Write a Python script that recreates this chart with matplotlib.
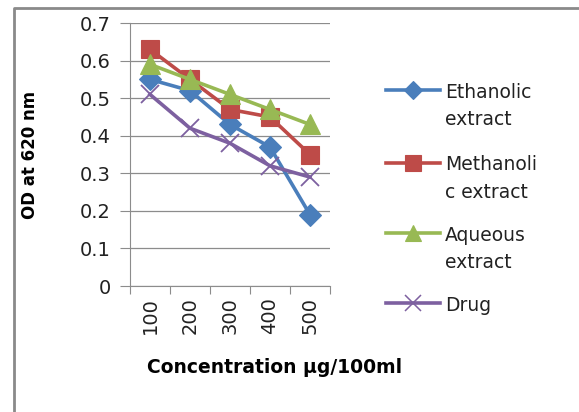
import matplotlib.pyplot as plt
from matplotlib.lines import Line2D

# data
concentrations = ["100", "200", "300", "400", "500"]
ethanolic = [0.55, 0.52, 0.43, 0.37, 0.19]
methanolic = [0.63, 0.55, 0.47, 0.45, 0.35]
aqueous = [0.59, 0.55, 0.51, 0.47, 0.43]
drug = [0.51, 0.42, 0.38, 0.32, 0.29]
labels = ["Ethanolic\nextract", "Methanoli\nc extract", "Aqueous\nextract", "Drug"]
yticks = [0, 0.1, 0.2, 0.3, 0.4, 0.5, 0.6, 0.7]

plt.rcParams['font.family'] = ['DejaVu Sans']

series = [
    (ethanolic, "#4A7EBB", "D", 11),
    (methanolic, "#BE4B48", "s", 13),
    (aqueous, "#98B954", "^", 14),
    (drug, "#7D60A0", "x", 13),
]

fig = plt.figure(figsize=(5.79, 4.12), dpi=100)
ax = fig.add_axes([0.2245, 0.3058, 0.3454, 0.6383])

xs = range(len(concentrations))
for vals, col, mk, ms in series:
    ax.plot(xs, vals, color=col, lw=2.6, marker=mk, markersize=ms,
            markeredgecolor=col, markeredgewidth=1.3 if mk == "x" else 0.8)

ax.set_xlim(-0.5, len(concentrations) - 0.5)
ax.set_ylim(0, 0.7)
ax.set_yticks(yticks)
ax.set_yticklabels(["0"] + [f"{v:.1f}" for v in yticks[1:]], fontsize=14,
                   color="#222222")
ax.yaxis.grid(True, color="#8c8c8c", lw=0.9)
ax.set_axisbelow(True)

# category labels between boundary ticks
ax.set_xticks([i - 0.5 for i in range(len(concentrations) + 1)])
ax.set_xticklabels([])
ax.set_xticks(list(xs), minor=True)
ax.set_xticklabels(concentrations, minor=True, rotation=90, fontsize=14,
                   color="#222222")
ax.tick_params(axis="x", which="minor", length=0, pad=8)
ax.tick_params(axis="x", which="major", length=6, color="#8c8c8c")
ax.tick_params(axis="y", length=7, color="#8c8c8c", pad=7)

for s in ["top", "right"]:
    ax.spines[s].set_visible(False)
for s in ["left", "bottom"]:
    ax.spines[s].set_color("#8c8c8c")

fig.text(0.052, 0.625, "OD at 620 nm", fontsize=12, fontweight="bold",
         rotation=90, ha="center", va="center")
fig.text(0.475, 0.108, "Concentration µg/100ml", fontsize=13.5, fontweight="bold",
         ha="center", va="center")

# legend drawn by hand so the key sits on the first text line
leg_y = [0.781, 0.604, 0.434, 0.265]
for (vals, col, mk, ms), lab, y in zip(series, labels, leg_y):
    fig.add_artist(Line2D([0.667, 0.7135, 0.760], [y, y, y], transform=fig.transFigure,
                          color=col, lw=2.6, marker=mk, markersize=ms * 0.85,
                          markeredgecolor=col, markevery=[1],
                          markeredgewidth=1.1 if mk == "x" else 0.8))
    # baseline alignment uses the last line, so drop by one line per break
    fig.text(0.768, y - 0.019 - 0.066 * lab.count("\n"), lab, fontsize=13.5,
             va="baseline", ha="left", linespacing=1.58, color="#222222")

# chart border (left and top edges)
fig.add_artist(Line2D([0.0245, 0.0245, 1.0], [0.0, 0.981, 0.981],
                      transform=fig.transFigure, color="#8a8a8a", lw=2))

fig.savefig("out.png", dpi=100)
